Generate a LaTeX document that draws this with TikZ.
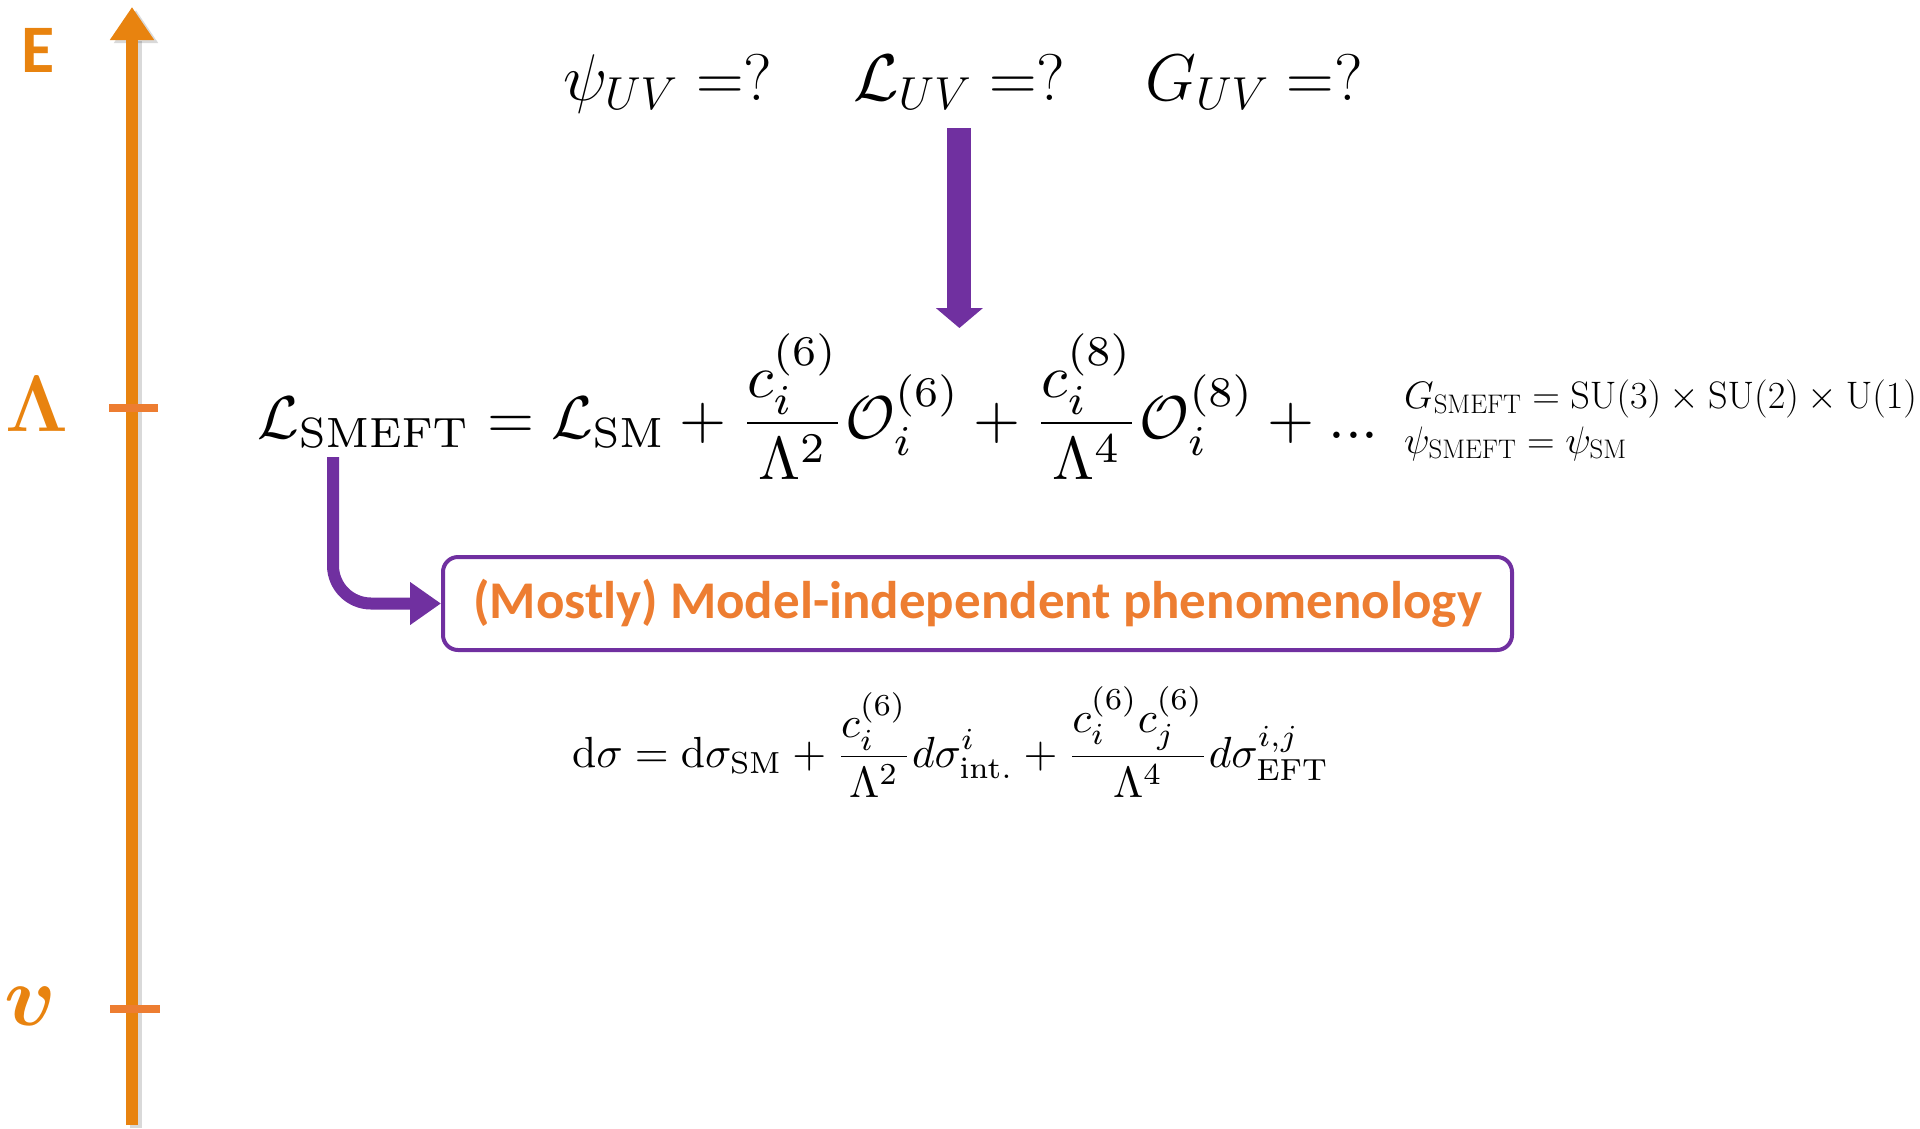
\RequirePackage{fix-cm}
\documentclass[tikz,border=0pt]{standalone}
\usepackage{amsmath}
\usepackage[no-math]{fontspec}
\newfontfamily\calibri{Carlito}
\usepackage{graphicx}
\usetikzlibrary{arrows.meta, positioning}
\definecolor{axisorange}{HTML}{E8830F}
\definecolor{tickorange}{HTML}{ED7D31}
\definecolor{eftpurple}{HTML}{7030A0}
\tikzset{
  axis/.style       = {line width=12pt, draw=axisorange, -{Triangle[width=42pt, length=33pt]}},
  axisshadow/.style = {line width=12pt, draw=black, opacity=0.15, -{Triangle[width=42pt, length=33pt]}},
  scaletick/.style  = {line width=8pt, draw=tickorange},
  scalelabel/.style = {text=axisorange, inner sep=0pt},
  eqn/.style        = {inner sep=0pt, anchor=west},
  eqnbase/.style    = {inner sep=0pt, anchor=base west},
  bigflow/.style    = {line width=24pt, draw=eftpurple, -{Triangle[width=46pt, length=20pt]}},
  flow/.style       = {line width=12pt, draw=eftpurple, -{Triangle[width=41pt, length=31pt]}},
  pheno/.style      = {draw=eftpurple, line width=4pt, rounded corners=15pt,
                       minimum width=1069pt, minimum height=93pt, text=tickorange,
                       font={\calibri\bfseries\fontsize{53}{60}\selectfont}}
}

\begin{document}
\begin{tikzpicture}[x=1pt, y=-1pt]
\useasboundingbox (0,0) rectangle (1920,1128);

% energy axis
\draw[axisshadow] (136,1128) -- (136,10);
\draw[axis] (132,1125) -- (132,7);
\draw[scaletick] (109,408) -- (158,408);
\draw[scaletick] (110,1009) -- (160,1009);
\node[scalelabel, font={\calibri\bfseries\fontsize{68}{68}\selectfont}] (elabel) at (38,50) {E};
\node[scalelabel, font=\fontsize{80}{80}\selectfont] (lamlabel) at (37,404) {$\boldsymbol{\Lambda}$};
\node[scalelabel, font=\fontsize{86}{86}\selectfont] (vlabel) at (30,1006) {$\boldsymbol{v}$};

% UV side
\node[eqnbase, font=\fontsize{66}{66}\selectfont] (psiuv) at (563,100) {$\psi_{UV} =?$};
\node[eqnbase, font=\fontsize{66}{66}\selectfont] (luv)   at (853,100) {$\mathcal{L}_{UV} =?$};
\node[eqnbase, font=\fontsize{66}{66}\selectfont] (guv)   at (1145,100) {$G_{UV} =?$};

% SMEFT expansion
\node[eqn] (smeft) at (257,407) {\resizebox{1121pt}{!}{$\displaystyle
  \mathcal{L}_{\mathrm{SMEFT}} = \mathcal{L}_{\mathrm{SM}}
  + \frac{c_i^{(6)}}{\Lambda^2}\mathcal{O}_i^{(6)}
  + \frac{c_i^{(8)}}{\Lambda^4}\mathcal{O}_i^{(8)} + ...$}};
\node[eqnbase, font=\fontsize{38.3}{38.3}\selectfont] (gsmeft) at (1404,408)
  {$G_{\mathrm{SMEFT}} = \mathrm{SU}(3)\times\mathrm{SU}(2)\times\mathrm{U}(1)$};
\node[eqnbase, font=\fontsize{38.3}{38.3}\selectfont] (psismeft) at (1404,453)
  {$\psi_{\mathrm{SMEFT}} = \psi_{\mathrm{SM}}$};

% phenomenology
\node[pheno] (pheno) at (977.5,603.5) {(Mostly) Model-independent phenomenology};
\node[eqn] (xsec) at (572,742) {\resizebox{757pt}{!}{$\displaystyle
  \mathrm{d}\sigma = \mathrm{d}\sigma_{\mathrm{SM}}
  + \frac{c_i^{(6)}}{\Lambda^2} d\sigma^i_{\mathrm{int.}}
  + \frac{c_i^{(6)}c_j^{(6)}}{\Lambda^4} d\sigma^{i,j}_{\mathrm{EFT}}$}};

% matching arrows
\coordinate (subfoot) at (333,457);
\draw[bigflow, shorten >=6pt] ([yshift=-18pt]luv.south) -- (luv.south |- smeft.north);
\draw[flow, rounded corners=38pt] (subfoot) |- (pheno.west);
\end{tikzpicture}
\end{document}
